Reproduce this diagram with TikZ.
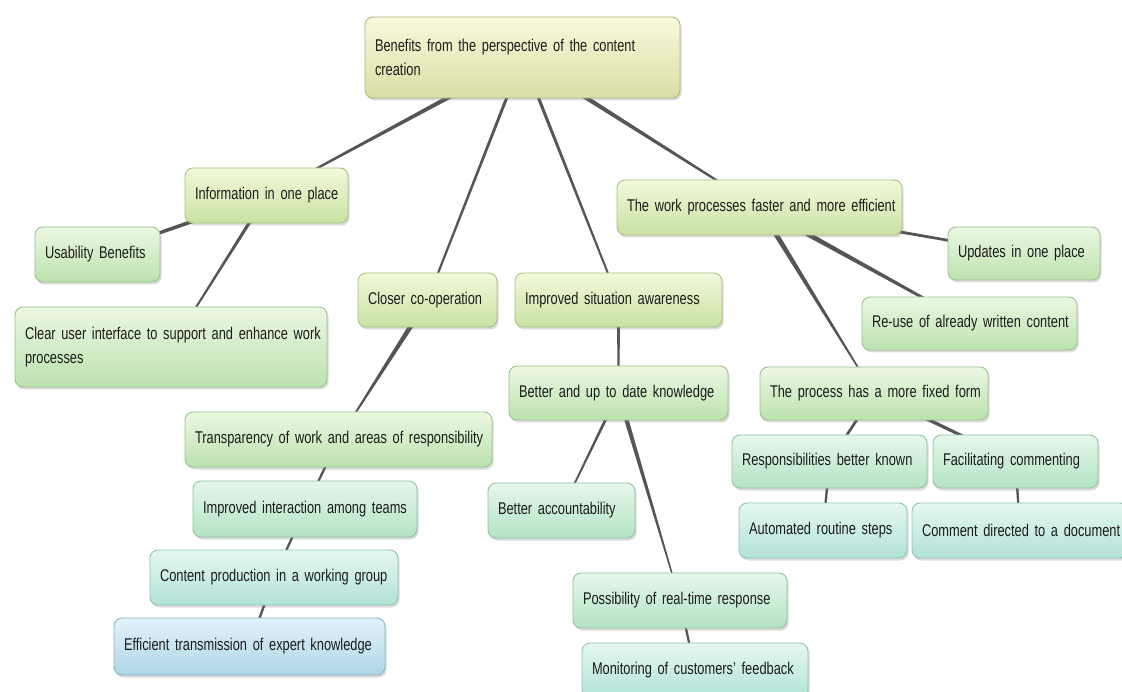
\documentclass[tikz,border=0pt]{standalone}
\usepackage{fontspec}
\setmainfont{Liberation Sans}[FakeStretch=0.755]
\usetikzlibrary{calc,shadows,backgrounds}

% node palettes: top / bottom / border
\definecolor{roottop}{HTML}{F9F9DC}\definecolor{rootbot}{HTML}{DADDA4}\definecolor{rootborder}{HTML}{B1B487}
\definecolor{limetop}{HTML}{F2F9DA}\definecolor{limebot}{HTML}{C8E2A3}\definecolor{limeborder}{HTML}{A6C287}
\definecolor{greentop}{HTML}{ECF8E2}\definecolor{greenbot}{HTML}{BBE2AE}\definecolor{greenborder}{HTML}{9AC28E}
\definecolor{minttop}{HTML}{E6F8EA}\definecolor{mintbot}{HTML}{B3E2C3}\definecolor{mintborder}{HTML}{93C3A5}
\definecolor{aquatop}{HTML}{E5F8F3}\definecolor{aquabot}{HTML}{B1E2D6}\definecolor{aquaborder}{HTML}{91C3B6}
\definecolor{bluetop}{HTML}{E3F2FA}\definecolor{bluebot}{HTML}{AED6E6}\definecolor{blueborder}{HTML}{8FB4C6}
\definecolor{branchcol}{HTML}{555555}
\definecolor{txt}{HTML}{1C1C1C}

% narrow label font with tighter word spacing
\newcommand\mmfont{\fontsize{17}{24}\selectfont\spaceskip=3.6pt\relax}

\tikzset{
  mm/.style={rounded corners=8pt, draw=#1border, line width=0.9pt,
    top color=#1top, bottom color=#1bot,
    drop shadow={shadow xshift=1.5pt, shadow yshift=-2.5pt, opacity=0.28},
    align=left, inner xsep=10pt, inner ysep=0pt, minimum height=55pt,
    text=txt, font={\mmfont}},
}

% tapered branch from the centre of #1 (half width #3) to the centre of #2 (half width #4)
\newcommand\branch[4]{%
  \fill[branchcol] ($(#1.center)!#3!90:(#2.center)$) -- ($(#2.center)!#4!-90:(#1.center)$)
    -- ($(#2.center)!#4!90:(#1.center)$) -- ($(#1.center)!#3!-90:(#2.center)$) -- cycle;}

\begin{document}
\begin{tikzpicture}[x=1pt,y=-1pt]
\useasboundingbox (0,0) rectangle (1122,692);

% central topic
\node[mm=root, text width=295pt, minimum height=81pt] (root) at (522.5,57.5)
  {\mbox{Benefits from the perspective of the content}\\\mbox{creation}};

% left branch
\node[mm=lime, text width=143pt] (info) at (266.5,195.5) {\mbox{Information in one place}};
\node[mm=green, text width=105pt] (usab) at (97.5,254.5) {\mbox{Usability Benefits}};
\node[mm=green, text width=292pt, minimum height=80pt] (clear) at (171,347)
  {\mbox{Clear user interface to support and enhance work}\\\mbox{processes}};

% co-operation branch
\node[mm=lime, text width=119pt, minimum height=54pt] (closer) at (427.5,300) {\mbox{Closer co-operation}};
\node[mm=green, text width=287pt] (transp) at (338.5,439.5) {\mbox{Transparency of work and areas of responsibility}};
\node[mm=mint, text width=204pt, minimum height=56pt] (inter) at (305,509) {\mbox{Improved interaction among teams}};
\node[mm=aqua, text width=228pt] (group) at (274,577.5) {\mbox{Content production in a working group}};
\node[mm=blue, text width=251pt, minimum height=57pt] (expert) at (249.5,646.5) {\mbox{Efficient transmission of expert knowledge}};

% situation awareness branch
\node[mm=lime, text width=187pt, minimum height=54pt] (aware) at (618.5,300) {\mbox{Improved situation awareness}};
\node[mm=green, text width=199pt, minimum height=54pt] (know) at (618.5,393) {\mbox{Better and up to date knowledge}};
\node[mm=mint, text width=127pt] (acc) at (561.5,510.5) {\mbox{Better accountability}};
\node[mm=mint, text width=194pt] (realtime) at (680,600.5) {\mbox{Possibility of real-time response}};
\node[mm=aqua, text width=206pt] (monitor) at (695,670.5) {\mbox{Monitoring of customers’ feedback}};

% work process branch
\node[mm=lime, text width=265pt] (work) at (759.5,207.5) {\mbox{The work processes faster and more efficient}};
\node[mm=green, text width=132pt, minimum height=53pt] (updates) at (1024,253.5) {\mbox{Updates in one place}};
\node[mm=green, text width=195pt, minimum height=53pt] (reuse) at (969.5,323.5) {\mbox{Re-use of already written content}};
\node[mm=green, text width=208pt, minimum height=53pt] (fixed) at (874,393.5) {\mbox{The process has a more fixed form}};
\node[mm=mint, text width=175pt, minimum height=53pt] (resp) at (829.5,461.5) {\mbox{Responsibilities better known}};
\node[mm=mint, text width=145pt, minimum height=53pt] (facil) at (1015.5,461.5) {\mbox{Facilitating commenting}};
\node[mm=aqua, text width=148pt] (auto) at (823,530.5) {\mbox{Automated routine steps}};
\node[mm=aqua, text width=196pt] (comment) at (1020,530.5) {\mbox{Comment directed to a document}};

\begin{scope}[on background layer]
  \fill[white] (0,0) rectangle (1122,692);
  \branch{root}{info}{2.6pt}{0.8pt}
  \branch{root}{closer}{1.6pt}{1pt}
  \branch{root}{aware}{1.7pt}{0.9pt}
  \branch{root}{work}{2.6pt}{0.8pt}
  \branch{info}{usab}{2.2pt}{1.4pt}
  \branch{info}{clear}{1.8pt}{0.7pt}
  \branch{closer}{transp}{2.8pt}{0.5pt}
  \branch{transp}{inter}{1.3pt}{1pt}
  \branch{inter}{group}{1.3pt}{1pt}
  \branch{group}{expert}{1.3pt}{1pt}
  \branch{aware}{know}{1.4pt}{1.1pt}
  \branch{know}{acc}{1.6pt}{0.7pt}
  \branch{know}{realtime}{2.4pt}{0.5pt}
  \branch{realtime}{monitor}{1.3pt}{1pt}
  \branch{work}{updates}{1.7pt}{1.2pt}
  \branch{work}{reuse}{2.8pt}{1pt}
  \branch{work}{fixed}{2.8pt}{0.5pt}
  \branch{fixed}{resp}{1.6pt}{1.1pt}
  \branch{fixed}{facil}{1.9pt}{1.3pt}
  \branch{resp}{auto}{1.3pt}{1pt}
  \branch{facil}{comment}{1.3pt}{1pt}
\end{scope}
\end{tikzpicture}
\end{document}
